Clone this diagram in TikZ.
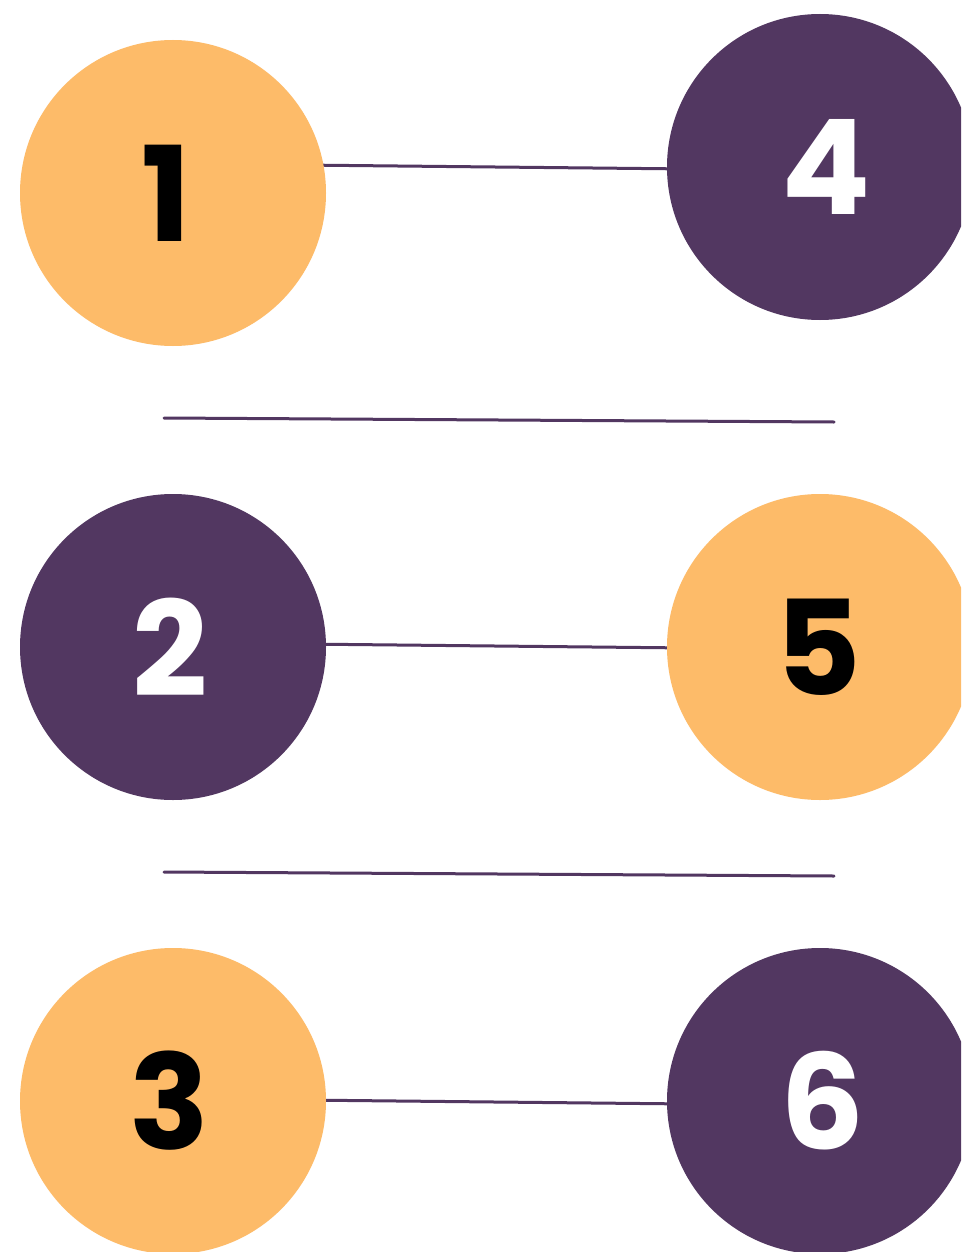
\documentclass[tikz,border=0pt]{standalone}
\usepackage{fontspec}
\setmainfont{Poppins}[BoldFont={* Bold}]
\definecolor{orng}{HTML}{FDBB69}
\definecolor{purp}{HTML}{523761}
\begin{document}
\begin{tikzpicture}[x=1pt,y=-1pt,
  disc/.style={circle,minimum size=306pt,inner sep=0pt,font=\fontsize{132}{132}\selectfont\bfseries},
  odisc/.style={disc,fill=orng,text=black},
  pdisc/.style={disc,fill=purp,text=white},
  link/.style={draw=purp,line width=3pt,line cap=round}]
\useasboundingbox (0,0) rectangle (961,1252);
\clip (0,0) rectangle (961,1252);
\fill[white] (0,0) rectangle (961,1252);
% connectors (drawn under the discs)
\coordinate (a1) at (300,165); \coordinate (a4) at (690,169);
\coordinate (a2) at (300,644); \coordinate (a5) at (690,648);
\coordinate (a3) at (300,1100); \coordinate (a6) at (690,1104);
\coordinate (s1a) at (164,418); \coordinate (s1b) at (834,422);
\coordinate (s2a) at (164,872); \coordinate (s2b) at (834,876);
\draw[link] (a1) -- (a4);
\draw[link] (a2) -- (a5);
\draw[link] (a3) -- (a6);
\draw[link] (s1a) -- (s1b);
\draw[link] (s2a) -- (s2b);
% discs
\node[odisc] (n1) at (173,193) {};
\node[pdisc] (n4) at (820,167) {};
\node[pdisc] (n2) at (173,647) {};
\node[odisc] (n5) at (820,647) {};
\node[odisc] (n3) at (173,1101) {};
\node[pdisc] (n6) at (820,1101) {};
% labels
\node[font=\fontsize{132}{132}\selectfont\bfseries,text=black] (t1) at (166,193) {1};
\node[font=\fontsize{132}{132}\selectfont\bfseries,text=white] (t4) at (826,167) {4};
\node[font=\fontsize{132}{132}\selectfont\bfseries,text=white] (t2) at (170,647) {2};
\node[font=\fontsize{132}{132}\selectfont\bfseries,text=black] (t5) at (818,647) {5};
\node[font=\fontsize{132}{132}\selectfont\bfseries,text=black] (t3) at (169,1101) {3};
\node[font=\fontsize{132}{132}\selectfont\bfseries,text=white] (t6) at (823,1101) {6};
\end{tikzpicture}
\end{document}
